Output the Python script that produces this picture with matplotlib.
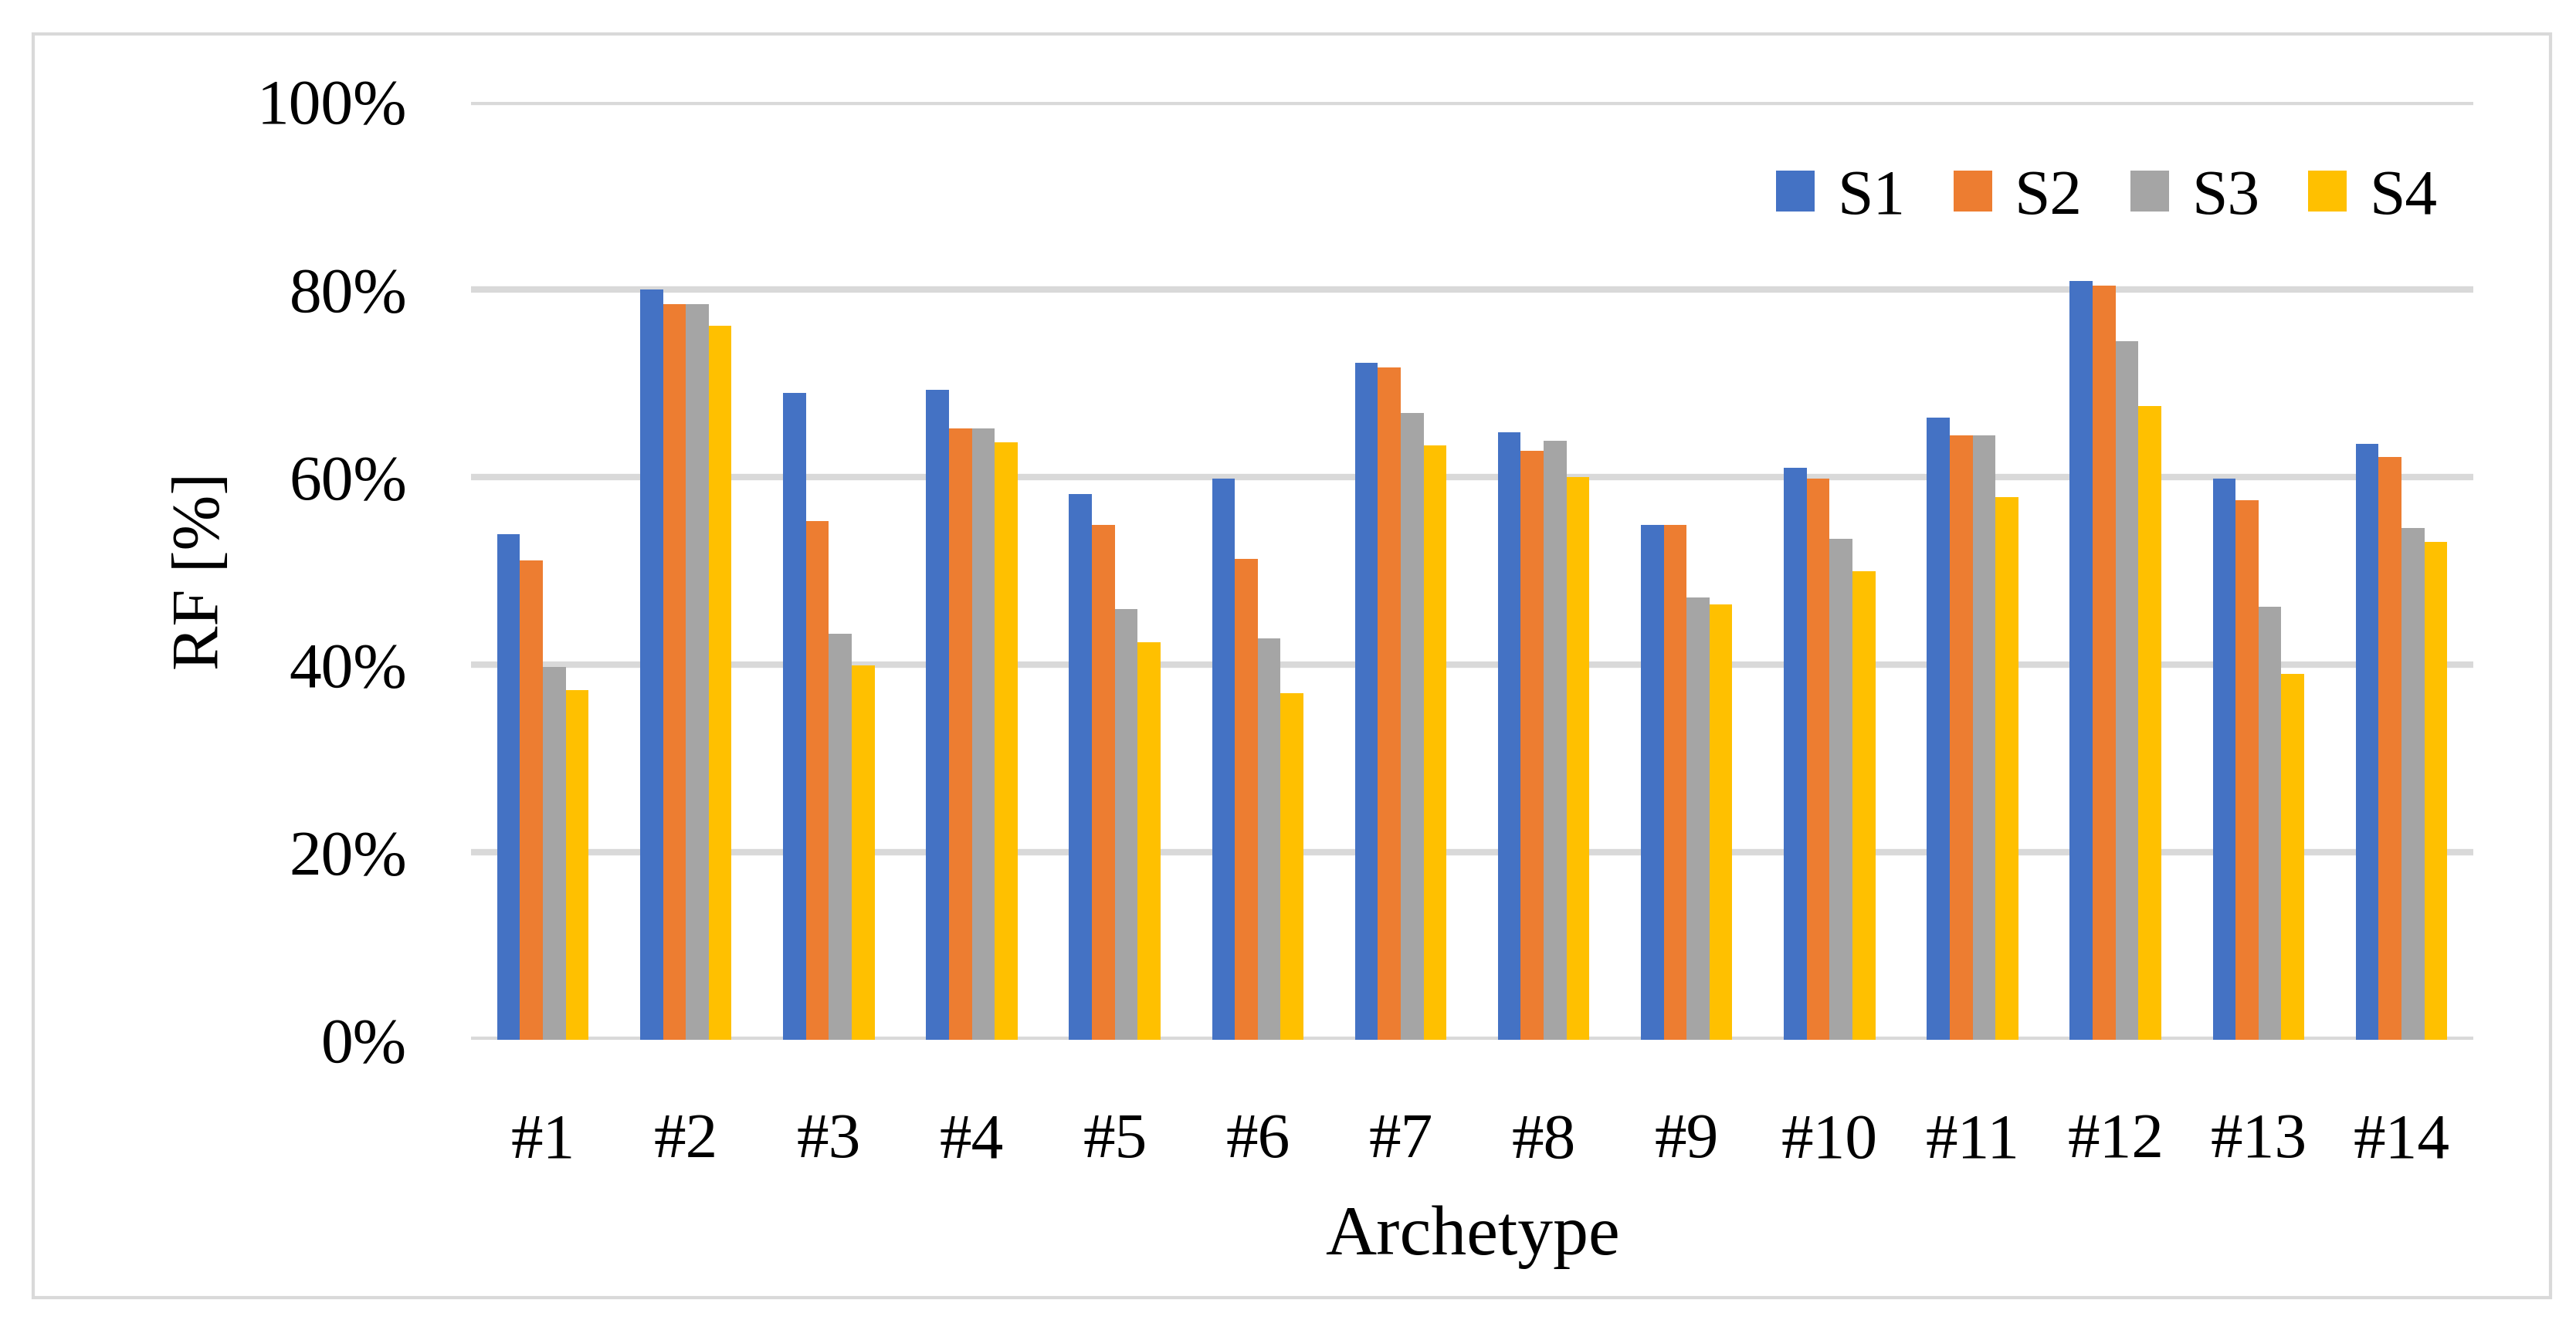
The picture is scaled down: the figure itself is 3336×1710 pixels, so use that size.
import numpy as np
import matplotlib
matplotlib.use("Agg")
from matplotlib import pyplot as plt
from matplotlib.patches import Rectangle
from matplotlib.ticker import PercentFormatter

# archetypes and RF values per scenario (%)
archetypes = ["#1", "#2", "#3", "#4", "#5", "#6", "#7",
              "#8", "#9", "#10", "#11", "#12", "#13", "#14"]
s1 = [53.9, 80.0, 69.0, 69.3, 58.2, 59.8, 72.2, 64.8, 54.9, 61.0, 66.3, 80.9, 59.8, 63.5]
s2 = [51.1, 78.4, 55.3, 65.2, 54.9, 51.3, 71.7, 62.8, 54.9, 59.8, 64.4, 80.4, 57.5, 62.1]
s3 = [39.8, 78.4, 43.3, 65.2, 45.9, 42.8, 66.8, 63.9, 47.2, 53.4, 64.4, 74.5, 46.2, 54.6]
s4 = [37.3, 76.1, 39.9, 63.7, 42.4, 37.0, 63.4, 60.0, 46.4, 50.0, 57.9, 67.6, 39.0, 53.1]
series = ["S1", "S2", "S3", "S4"]
colors = ["#4472C4", "#ED7D31", "#A5A5A5", "#FFC000"]

plt.rcParams['font.family'] = ['Liberation Serif', 'DejaVu Serif']

fig = plt.figure(figsize=(16.68, 8.55), dpi=200)
ax = fig.add_axes([0.183, 0.212, 0.777, 0.711])

x = np.arange(len(archetypes))
w = 0.16
for i, (vals, lab, c) in enumerate(zip([s1, s2, s3, s4], series, colors)):
    ax.bar(x + (i - 1.5) * w, vals, w, color=c, label=lab, zorder=3)

ax.set_ylim(0, 100)
ax.set_xlim(-0.5, len(archetypes) - 0.5)
ax.set_yticks(np.arange(0, 101, 20))
ax.yaxis.set_major_formatter(PercentFormatter(decimals=0))
ax.set_xticks(x)
ax.set_xticklabels(archetypes)
ax.grid(axis='y', color='#d9d9d9', linewidth=3.0, zorder=0)
ax.set_axisbelow(True)
for s in ax.spines.values():
    s.set_visible(False)
ax.tick_params(axis='both', length=0, labelsize=30)
ax.tick_params(axis='y', pad=30)
ax.tick_params(axis='x', pad=34)

ax.set_xlabel("Archetype", fontsize=33, labelpad=16)
ax.set_ylabel("RF [%]", fontsize=31, labelpad=11)

ax.legend(loc='upper right', bbox_to_anchor=(0.995, 0.955), ncol=4, frameon=False,
          fontsize=30, handlelength=0.6, handleheight=0.6, handletextpad=0.35,
          columnspacing=0.75, borderaxespad=0)

# light border around the whole chart
fig.patches.append(Rectangle((0.013, 0.017), 0.977, 0.957, transform=fig.transFigure,
                             fill=False, edgecolor='#d9d9d9', linewidth=1.5))

fig.savefig("out.png", dpi=200)
